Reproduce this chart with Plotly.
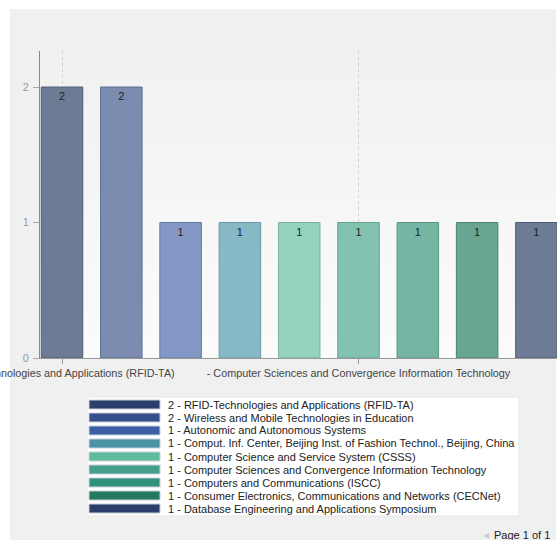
import plotly.graph_objects as go

# Conference counts
categories = [
    "RFID-Technologies and Applications (RFID-TA)",
    "Wireless and Mobile Technologies in Education",
    "Autonomic and Autonomous Systems",
    "Comput. Inf. Center, Beijing Inst. of Fashion Technol., Beijing, China",
    "Computer Science and Service System (CSSS)",
    "Computer Sciences and Convergence Information Technology",
    "Computers and Communications (ISCC)",
    "Consumer Electronics, Communications and Networks (CECNet)",
    "Database Engineering and Applications Symposium",
]
counts = [2, 2, 1, 1, 1, 1, 1, 1, 1]

# Only some categories get an axis label
axis_label_index = [0, 5]
axis_label_text = [
    "RFID-Technologies and Applications (RFID-TA)",
    "- Computer Sciences and Convergence Information Technology",
]

bar_colors = ["#6e7b95", "#7b8cb0", "#8398c4", "#86b9c5", "#96d2c0",
              "#82c2b0", "#74b6a3", "#68a592", "#6e7b95"]
bar_edges = ["#505c75", "#5c6c90", "#6478a4", "#6899a5", "#78b2a0",
             "#64a290", "#569683", "#4a8572", "#505c75"]
legend_colors = ["#2c3e6b", "#344f8c", "#3d5ea6", "#4993a5", "#5ebc9d",
                 "#449f88", "#30917a", "#22795f", "#2b3d6b"]

W, H = 557, 540
ML, MR, MT, MB = 40, 0, 51, 182
PW, PH = W - ML - MR, H - MT - MB
FONT = "Liberation Sans"


def xp(px):
    return (px - ML) / PW


def yp(py):
    return (H - MB - py) / PH


fig = go.Figure()
fig.add_trace(go.Bar(
    x=list(range(len(categories))),
    y=counts,
    marker=dict(color=bar_colors, line=dict(color=bar_edges, width=1)),
    text=[str(v) for v in counts],
    textposition="inside",
    insidetextanchor="end",
    textangle=0,
    textfont=dict(family=FONT, size=11, color="#222"),
    hoverinfo="skip",
    showlegend=False,
))

shapes = []
# grey panel
shapes.append(dict(type="rect", xref="paper", yref="paper",
                   x0=xp(10), x1=xp(556), y0=yp(560), y1=yp(9),
                   fillcolor="#f0f0f0", line=dict(width=0), layer="below"))
# soft gradient in the plot area
steps = 24
top, bot = 52, 358
for i in range(steps):
    y0 = top + (bot - top) * i / steps
    y1 = top + (bot - top) * (i + 1) / steps
    t = (i + 0.5) / steps
    c = int(241 + (252 - 241) * t)
    shapes.append(dict(type="rect", xref="paper", yref="paper",
                       x0=xp(40), x1=xp(556), y0=yp(y1), y1=yp(y0),
                       fillcolor=f"rgb({c},{c},{c})", line=dict(width=0),
                       layer="below"))
# legend box
shapes.append(dict(type="rect", xref="paper", yref="paper",
                   x0=xp(87), x1=xp(519), y0=yp(516), y1=yp(397),
                   fillcolor="white", line=dict(color="#e6e6e6", width=1),
                   layer="above"))

annotations = []
for i, (name, v, col) in enumerate(zip(categories, counts, legend_colors)):
    cy = 404.5 + 13 * i
    shapes.append(dict(type="rect", xref="paper", yref="paper",
                       x0=xp(89), x1=xp(160), y0=yp(cy + 4.5), y1=yp(cy - 4.5),
                       fillcolor=col, line=dict(color="#c8d0dc", width=1),
                       layer="above"))
    annotations.append(dict(xref="paper", yref="paper", x=xp(166), y=yp(cy),
                            text=f"{v} - {name}", showarrow=False,
                            xanchor="left", yanchor="middle",
                            font=dict(family=FONT, size=11, color="#222")))

annotations.append(dict(xref="paper", yref="paper", x=xp(552), y=yp(535),
                        text="Page 1 of 1", showarrow=False,
                        xanchor="right", yanchor="middle",
                        font=dict(family=FONT, size=11, color="#222")))
annotations.append(dict(xref="paper", yref="paper", x=xp(492), y=yp(535),
                        text="◀", showarrow=False,
                        xanchor="right", yanchor="middle",
                        font=dict(family=FONT, size=8, color="#d0d0d0")))

fig.update_layout(
    width=W, height=H,
    margin=dict(l=ML, r=MR, t=MT, b=MB, pad=0, autoexpand=False),
    paper_bgcolor="white",
    plot_bgcolor="rgba(0,0,0,0)",
    bargap=0.30,
    shapes=shapes,
    annotations=annotations,
    font=dict(family=FONT, size=11),
    xaxis=dict(
        range=[-0.371, 8.347],
        tickvals=axis_label_index,
        ticktext=axis_label_text,
        ticklabeloverflow="allow",
        tickangle=0,
        automargin=False,
        ticks="outside", ticklen=5, tickcolor="#999",
        showline=True, linecolor="#999", linewidth=1,
        showgrid=True, gridcolor="#cfcfcf", griddash="dot", gridwidth=1,
        tickfont=dict(family=FONT, size=10.8, color="#444"),
        zeroline=False, fixedrange=True,
    ),
    yaxis=dict(
        range=[0, 2.266],
        tickvals=[0, 1, 2],
        automargin=False,
        ticks="outside", ticklen=6, tickcolor="#aaa",
        ticklabelstandoff=2,
        showline=True, linecolor="#888", linewidth=1,
        showgrid=False, zeroline=False,
        tickfont=dict(family=FONT, size=11, color="#999"),
        fixedrange=True,
    ),
)

fig.write_html("out.html")
